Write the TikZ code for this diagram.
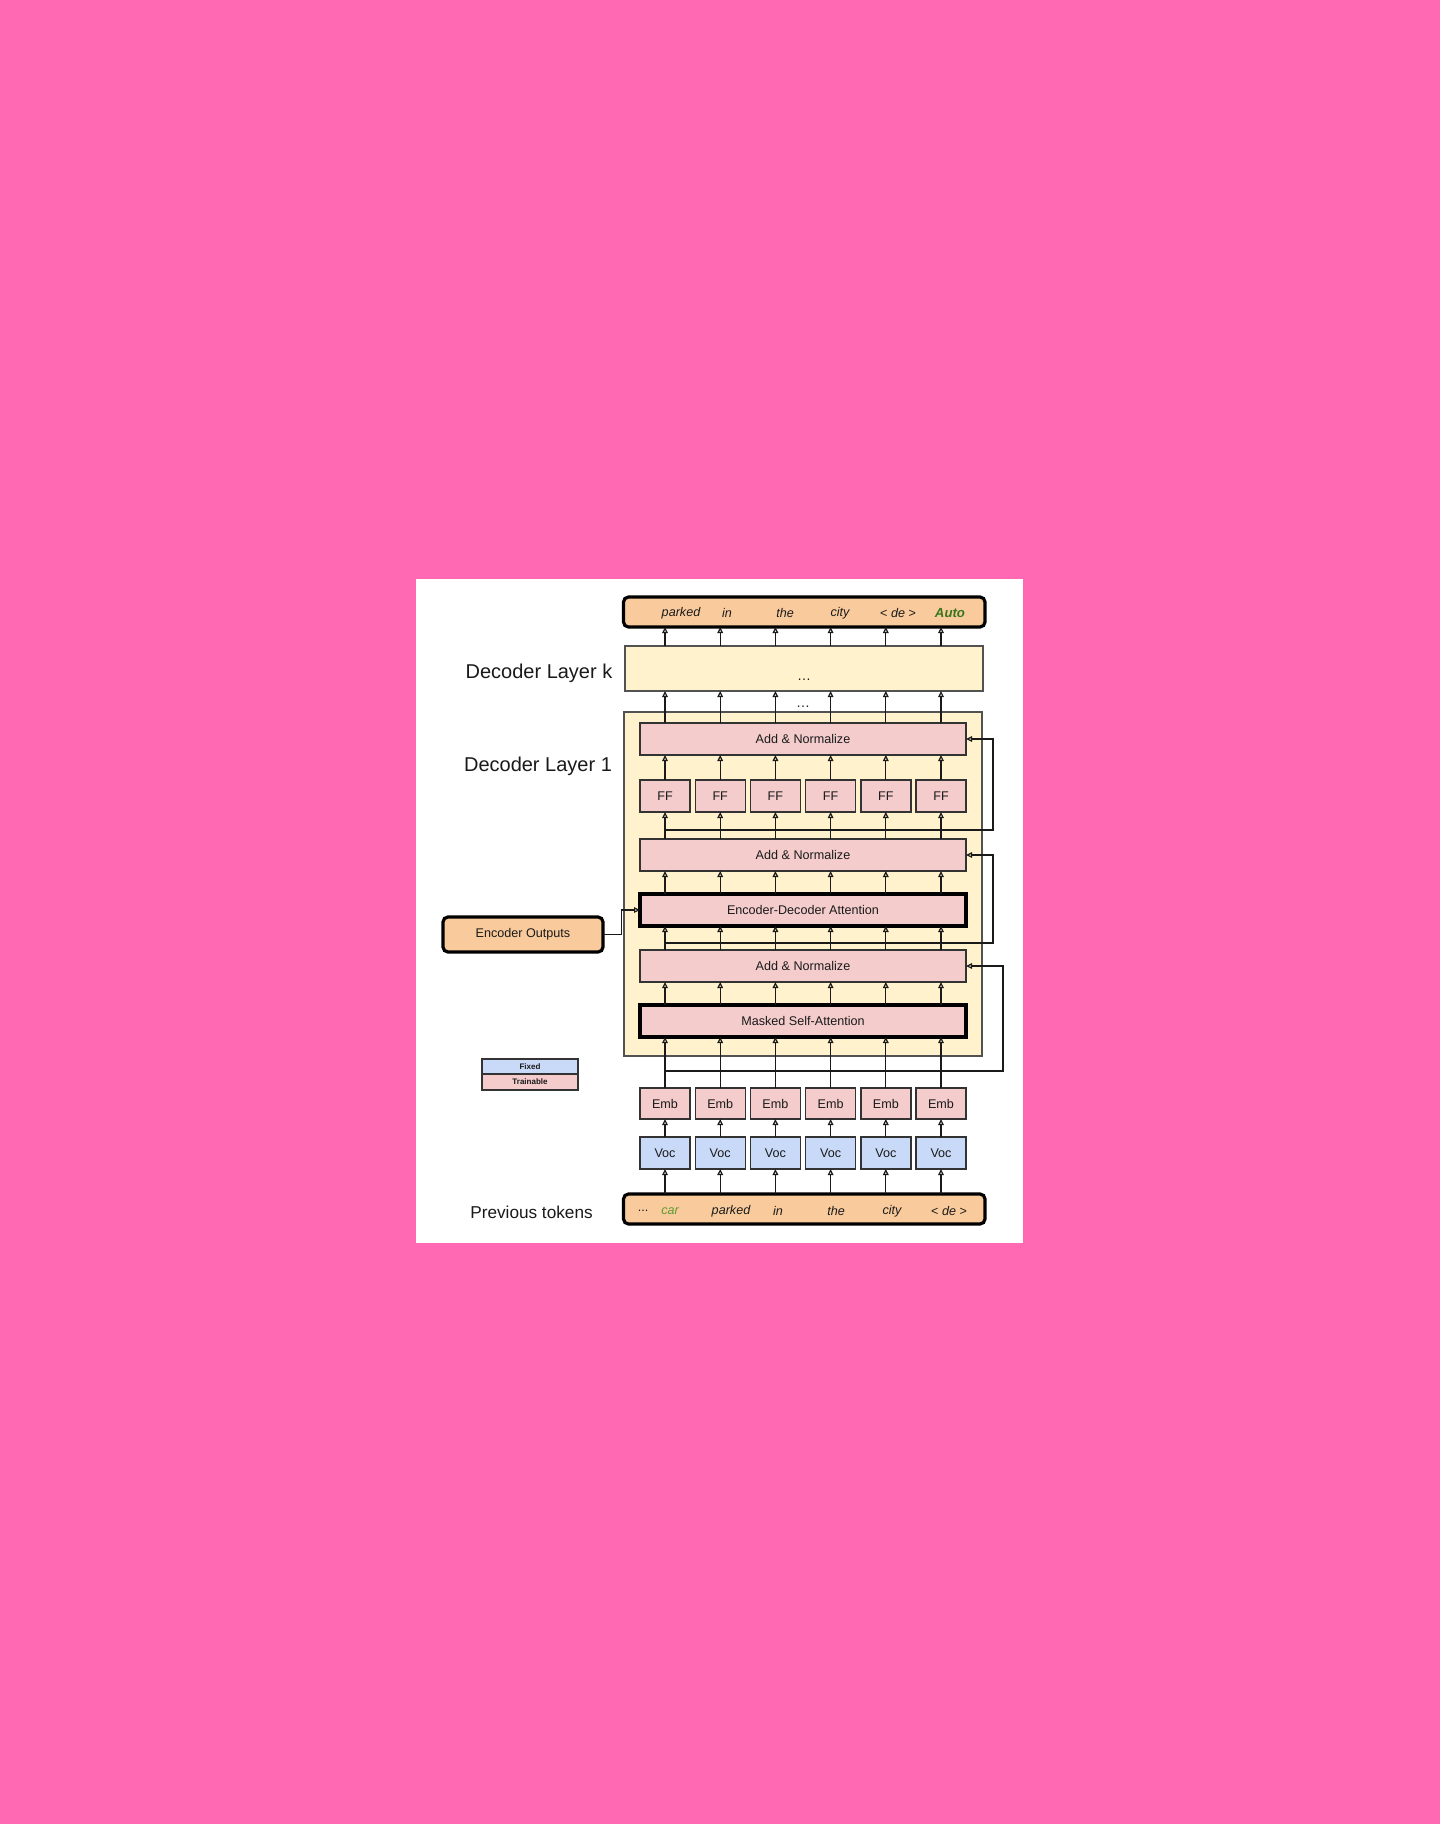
\documentclass[tikz,border=0pt]{standalone}
\usepackage{fontspec}
\setmainfont{Liberation Sans}
\usetikzlibrary{arrows.meta}
\definecolor{bgpink}{HTML}{FF69B4}
\definecolor{peach}{HTML}{F9CB9C}
\definecolor{cream}{HTML}{FFF2CC}
\definecolor{rose}{HTML}{F4CCCC}
\definecolor{sky}{HTML}{C9DAF8}
\definecolor{edge}{HTML}{333333}
\definecolor{txt}{HTML}{1A1A1A}
\definecolor{darkgreen}{HTML}{38761D}
\definecolor{midgreen}{HTML}{5E9A2E}
\tikzset{
  base/.style={inner sep=0pt, outer sep=0pt, text=txt, font=\fontsize{6.3pt}{7pt}\selectfont},
  pinkbox/.style={base, draw=edge, line width=0.7pt, fill=rose},
  bluebox/.style={base, draw=edge, line width=0.7pt, fill=sky},
  heavybox/.style={base, draw=black, line width=1.6pt, fill=rose},
  tokbox/.style={base, draw=black, line width=1.6pt, fill=peach, rounded corners=2.5pt},
  layerbox/.style={base, draw=edge!85, line width=0.7pt, fill=cream},
  bigtext/.style={base, font=\fontsize{10pt}{12pt}\selectfont},
  tok/.style={base, font=\fontsize{6.3pt}{7pt}\selectfont\itshape},
  legendtext/.style={base, font=\fontsize{4pt}{5pt}\selectfont\bfseries},
  arr/.style={draw=txt, line width=0.6pt, -{Triangle[open,length=3pt,width=2.8pt,line width=0.6pt]}},
  wire/.style={draw=txt, line width=0.6pt}
}
\begin{document}
\begin{tikzpicture}[x=0.5pt,y=-0.5pt]
\useasboundingbox (0,0) rectangle (1440,1824);
\fill[bgpink] (0,0) rectangle (1440,1824);
\fill[white] (416,579) rectangle (1023,1243);

% layer boxes
\node[layerbox, minimum width=179pt, minimum height=172pt] (l1) at (803,884) {};
\node[layerbox, minimum width=179pt, minimum height=22.5pt] (lk) at (804,668.5) {};
\node[base, anchor=base] (dk) at (804,680) {\fontsize{7pt}{8pt}\selectfont\ldots};
\node[base, anchor=base] (dm) at (803,707) {\fontsize{7pt}{8pt}\selectfont\ldots};

% labels
\node[bigtext] (labk) at (539,673) {Decoder Layer k};
\node[bigtext] (lab1) at (538,766) {Decoder Layer 1};
\node[base, font=\fontsize{8.6pt}{10pt}\selectfont] (labp) at (531.5,1212) {Previous tokens};

% token boxes
\node[tokbox, minimum width=180.75pt, minimum height=15pt] (out) at (804.25,612) {};
\node[tokbox, minimum width=180.75pt, minimum height=15pt] (inp) at (804.25,1209) {};
\node[tokbox, minimum width=80pt, minimum height=17.5pt] (enc) at (523,934.5) {Encoder Outputs};

% wide blocks
\node[pinkbox, minimum width=163pt, minimum height=16pt] (an1) at (803,739) {Add \& Normalize};
\node[pinkbox, minimum width=163pt, minimum height=16pt] (an2) at (803,855) {Add \& Normalize};
\node[heavybox, minimum width=163pt, minimum height=16pt] (eda) at (803,910) {Encoder-Decoder Attention};
\node[pinkbox, minimum width=163pt, minimum height=16pt] (an3) at (803,966) {Add \& Normalize};
\node[heavybox, minimum width=163pt, minimum height=16pt] (msa) at (803,1021) {Masked Self-Attention};

% legend
\node[bluebox, minimum width=48pt, minimum height=7.5pt] (fixed) at (530,1066.5) {};
\node[legendtext] at (fixed) {Fixed};
\node[pinkbox, minimum width=48pt, minimum height=8pt] (train) at (530,1082) {};
\node[legendtext] at (train) {Trainable};

% tokens text
\node[tok] (o1) at (681,613) {parked};
\node[tok] (o2) at (727,613) {in};
\node[tok] (o3) at (785,613) {the};
\node[tok] (o4) at (840,613) {city};
\node[tok] (o5) at (898,613) {\upshape<~\itshape de\upshape~>};
\node[tok, text=darkgreen, font=\fontsize{6.6pt}{7pt}\selectfont\bfseries\itshape] (o6) at (950,613) {Auto};

\node[base] (i0) at (643,1211) {...};
\node[tok, text=midgreen] (i1) at (670,1211) {car};
\node[tok] (i2) at (731,1211) {parked};
\node[tok] (i3) at (778,1211) {in};
\node[tok] (i4) at (836,1211) {the};
\node[tok] (i5) at (892,1211) {city};
\node[tok] (i6) at (949,1211) {\upshape<~\itshape de\upshape~>};

% columns
\foreach \i/\x in {1/665,2/720.2,3/775.4,4/830.6,5/885.8,6/941} {
  \node[pinkbox, minimum width=25pt, minimum height=16pt] (ff\i) at (\x,796) {FF};
  \node[pinkbox, minimum width=25pt, minimum height=15.5pt] (emb\i) at (\x,1103.5) {Emb};
  \node[bluebox, minimum width=25pt, minimum height=16pt] (voc\i) at (\x,1153) {Voc};
}
\foreach \i in {1,...,6} {
  \draw[arr] (inp.north -| voc\i.south) -- (voc\i.south);
  \draw[arr] (voc\i.north) -- (emb\i.south);
  \draw[arr] (emb\i.north) -- (emb\i.north |- msa.south);
  \draw[arr] (msa.north -| emb\i.north) -- (an3.south -| emb\i.north);
  \draw[arr] (an3.north -| emb\i.north) -- (eda.south -| emb\i.north);
  \draw[arr] (eda.north -| emb\i.north) -- (an2.south -| emb\i.north);
  \draw[arr] (an2.north -| ff\i.south) -- (ff\i.south);
  \draw[arr] (ff\i.north) -- (an1.south -| ff\i.north);
  \draw[arr] (an1.north -| ff\i.north) -- (lk.south -| ff\i.north);
  \draw[arr] (lk.north -| ff\i.north) -- (out.south -| ff\i.north);
}

% residual connections
\coordinate (r1s) at (665,1071);
\coordinate (r1x) at (1003,1071);
\draw[arr] (r1s) -- (r1x) |- (an3.east);
\coordinate (r2s) at (665,943);
\coordinate (r2x) at (993,943);
\draw[arr] (r2s) -- (r2x) |- (an2.east);
\coordinate (r3s) at (665,830);
\coordinate (r3x) at (993,830);
\draw[arr] (r3s) -- (r3x) |- (an1.east);

% encoder outputs
\coordinate (ek) at (621.5,934.5);
\draw[arr] (enc.east) -- (ek) |- (eda.west);
\end{tikzpicture}
\end{document}
